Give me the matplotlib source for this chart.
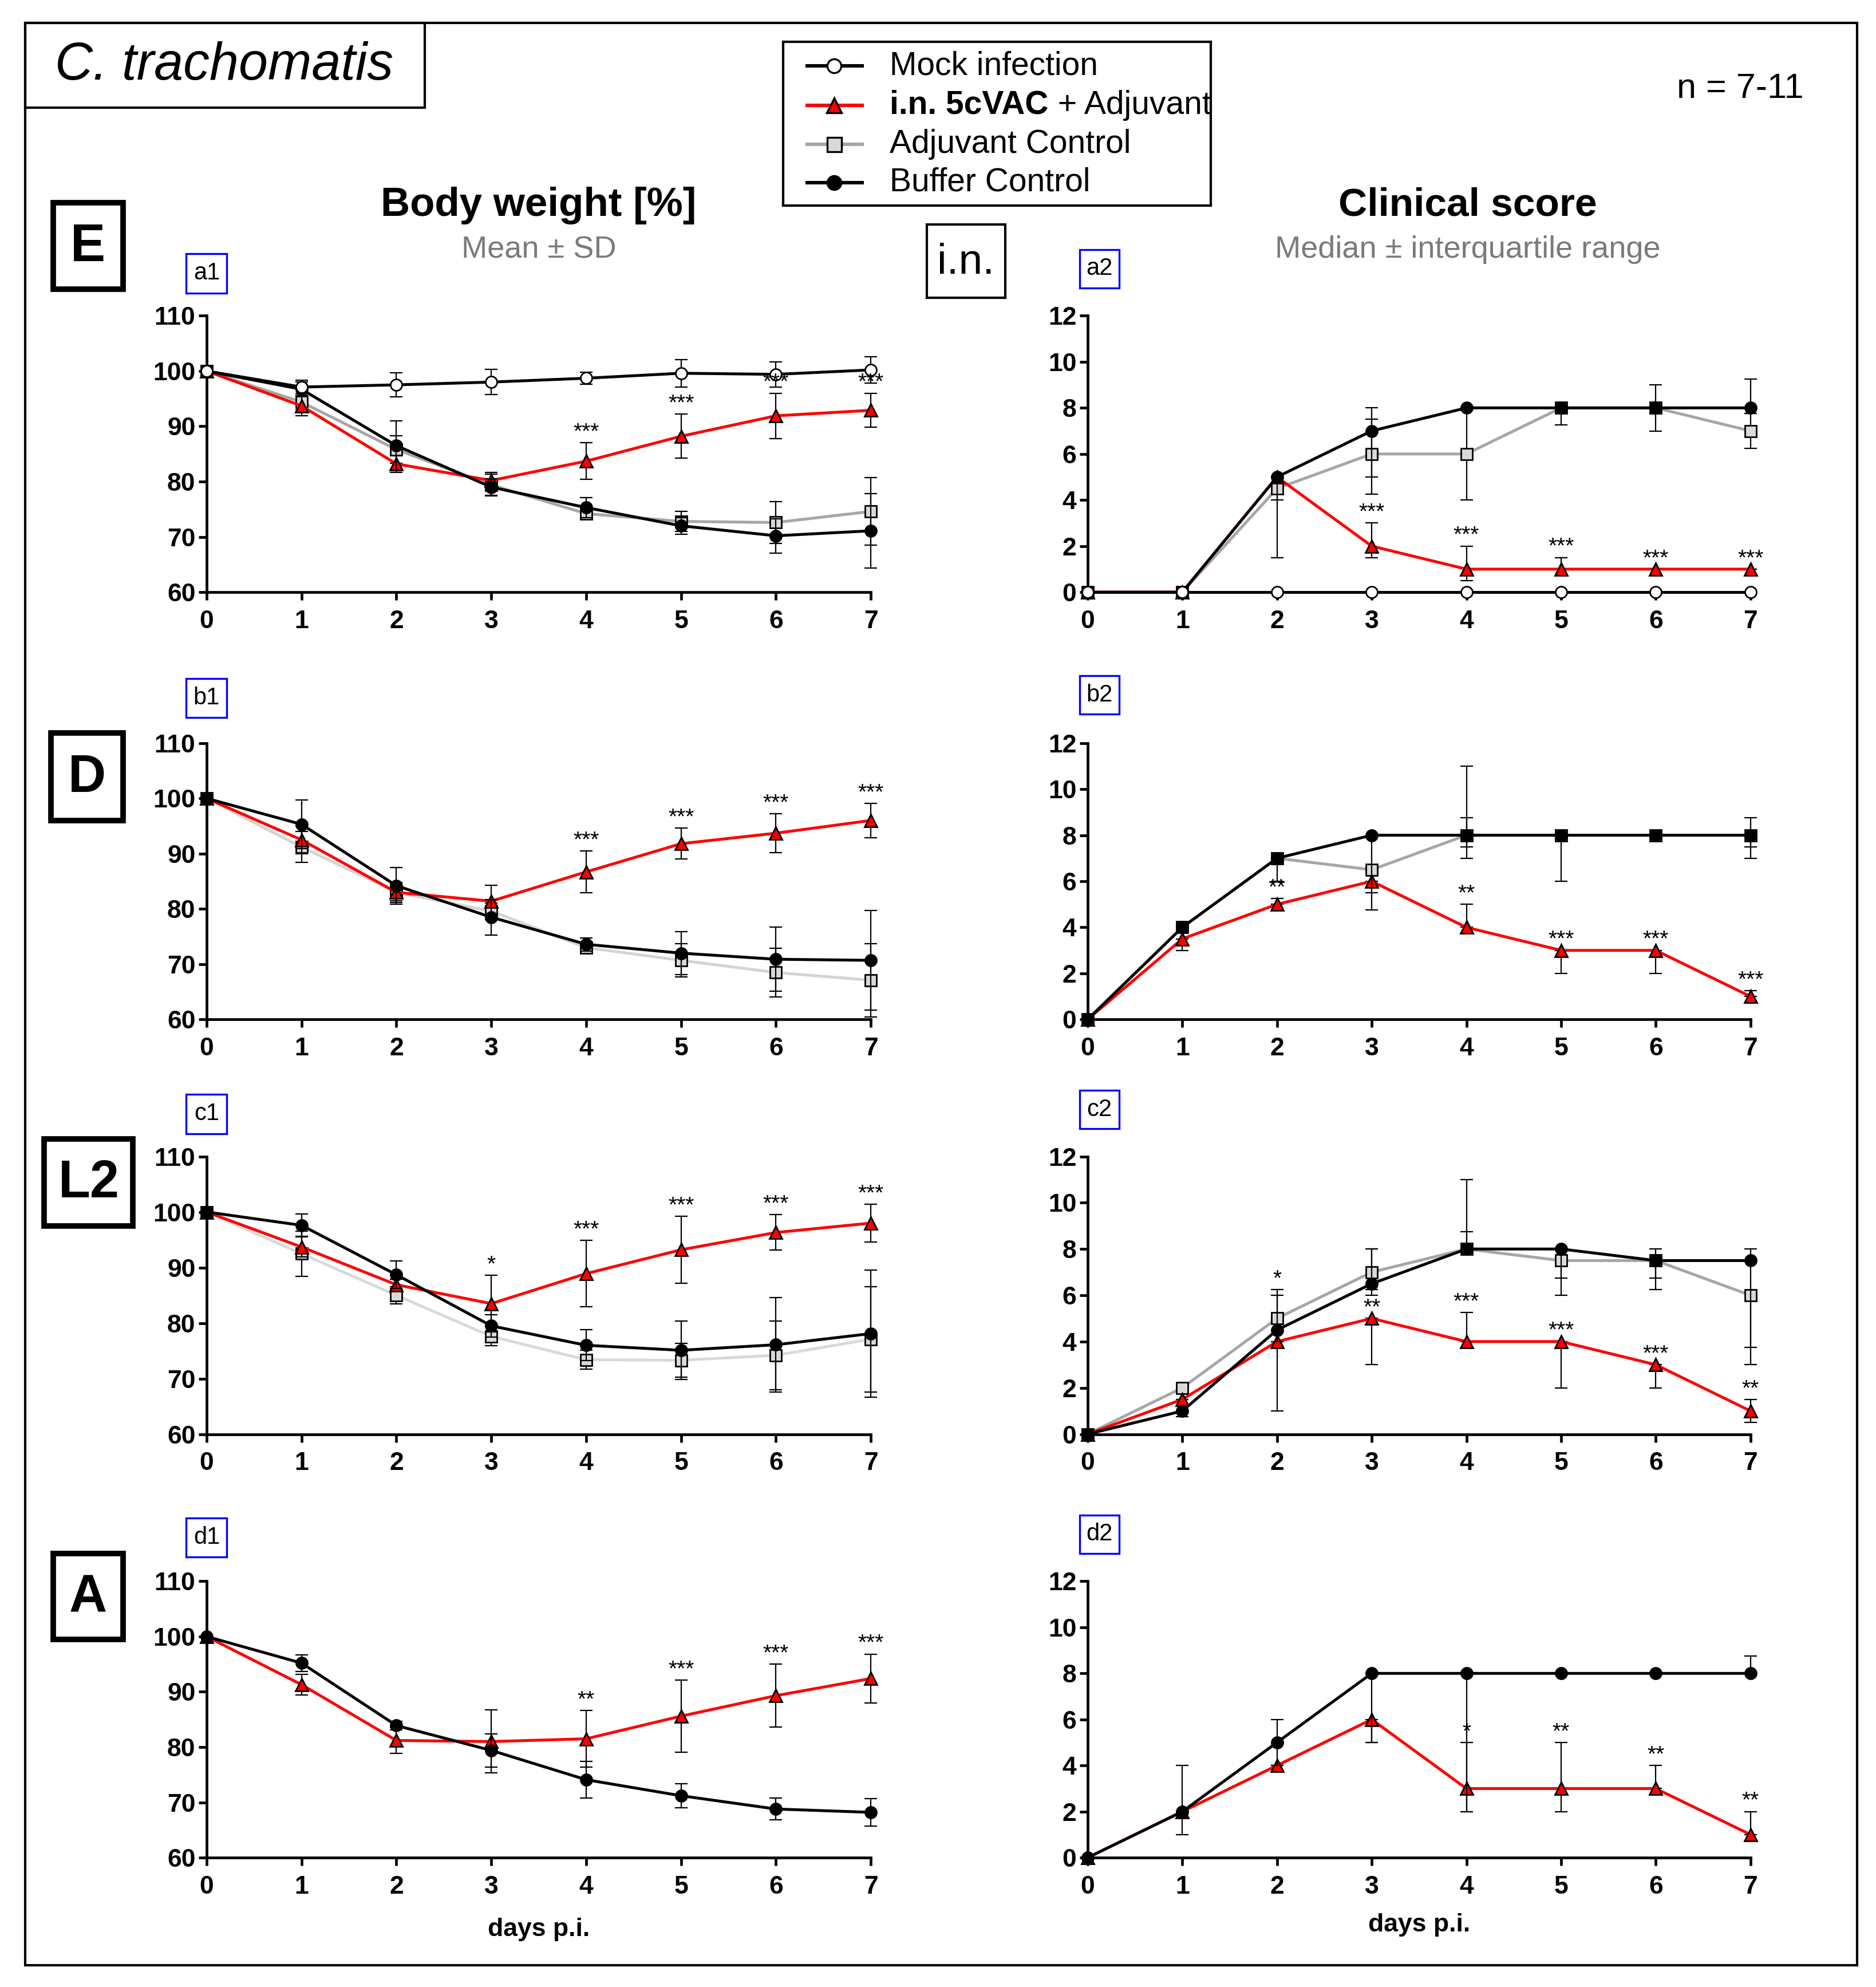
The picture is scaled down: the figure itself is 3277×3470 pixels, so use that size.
import matplotlib
matplotlib.use("Agg")
import matplotlib.pyplot as plt
from matplotlib.patches import Rectangle
import numpy as np

plt.rcParams["font.family"] = ["Liberation Sans", "DejaVu Sans"]

days = [0, 1, 2, 3, 4, 5, 6, 7]

# ---------------- serovar E ----------------
mock_E_bw = [100, 97.1, 97.5, 98.0, 98.7, 99.6, 99.4, 100.2]
mock_E_bw_sd = [0, 1.2, 2.2, 2.3, 1.1, 2.5, 2.3, 2.4]
vac_E_bw = [100, 93.7, 83.2, 80.2, 83.7, 88.2, 91.9, 92.9]
vac_E_bw_sd = [0, 1.8, 1.5, 1.5, 3.3, 4.0, 4.1, 3.1]
adj_E_bw = [100, 94.4, 85.8, 79.4, 74.2, 72.8, 72.6, 74.6]
adj_E_bw_sd = [0, 1.5, 2.5, 2.0, 1.0, 1.8, 3.8, 6.1]
buf_E_bw = [100, 96.7, 86.5, 79.0, 75.3, 72.0, 70.2, 71.1]
buf_E_bw_sd = [0, 1.3, 4.5, 1.5, 1.8, 1.5, 3.1, 6.7]
stars_E_bw = ["", "", "", "", "***", "***", "***", "***"]

mock_E_cs = [0, 0, 0, 0, 0, 0, 0, 0]
vac_E_cs = [0, 0, 5, 2, 1, 1, 1, 1]
vac_E_cs_lo = [0, 0, 5, 1.5, 0.5, 1, 1, 1]
vac_E_cs_hi = [0, 0, 5, 3, 2, 1.5, 1, 1]
adj_E_cs = [0, 0, 4.5, 6, 6, 8, 8, 7]
adj_E_cs_lo = [0, 0, 1.5, 4.25, 4, 8, 8, 6.25]
adj_E_cs_hi = [0, 0, 5, 7.5, 8, 8, 8, 7.75]
buf_E_cs = [0, 0, 5, 7, 8, 8, 8, 8]
buf_E_cs_lo = [0, 0, 4, 5, 8, 7.25, 7, 7.75]
buf_E_cs_hi = [0, 0, 5, 8, 8, 8, 9, 9.25]
stars_E_cs = ["", "", "", "***", "***", "***", "***", "***"]

# ---------------- serovar D ----------------
vac_D_bw = [100, 92.5, 83.0, 81.4, 86.7, 91.8, 93.7, 96.0]
vac_D_bw_sd = [0, 2.5, 1.5, 2.9, 3.8, 2.8, 3.5, 3.1]
adj_D_bw = [100, 91.2, 83.0, 79.6, 73.0, 70.7, 68.5, 67.1]
adj_D_bw_sd = [0, 2.8, 1.8, 1.5, 1.0, 3.0, 4.4, 6.6]
buf_D_bw = [100, 95.3, 84.2, 78.5, 73.6, 72.0, 70.9, 70.7]
buf_D_bw_sd = [0, 4.4, 3.3, 3.2, 1.2, 3.9, 5.8, 9.0]
stars_D_bw = ["", "", "", "", "***", "***", "***", "***"]

vac_D_cs = [0, 3.5, 5, 6, 4, 3, 3, 1]
vac_D_cs_lo = [0, 3, 5, 5.5, 4, 2, 2, 1]
vac_D_cs_hi = [0, 3.5, 5.25, 6, 5, 3, 3, 1.25]
adj_D_cs = [0, 4, 7, 6.5, 8, 8, 8, 8]
adj_D_cs_lo = [0, 4, 7, 6.5, 7.5, 8, 8, 7.5]
adj_D_cs_hi = [0, 4, 7, 6.5, 11, 8, 8, 8]
buf_D_cs = [0, 4, 7, 8, 8, 8, 8, 8]
buf_D_cs_lo = [0, 4, 6, 4.75, 7, 6, 8, 7]
buf_D_cs_hi = [0, 4, 7, 8, 8.75, 8, 8, 8.75]
stars_D_cs = ["", "", "**", "", "**", "***", "***", "***"]

# ---------------- serovar L2 ----------------
vac_L2_bw = [100, 93.7, 86.9, 83.5, 88.9, 93.2, 96.3, 98.0]
vac_L2_bw_sd = [0, 1.8, 1.0, 5.1, 6.0, 6.0, 3.2, 3.4]
adj_L2_bw = [100, 92.5, 85.0, 77.6, 73.4, 73.3, 74.2, 77.1]
adj_L2_bw_sd = [0, 4.1, 1.5, 1.7, 1.7, 3.0, 6.2, 9.5]
buf_L2_bw = [100, 97.6, 88.7, 79.5, 76.0, 75.1, 76.1, 78.1]
buf_L2_bw_sd = [0, 2.0, 2.5, 2.0, 2.8, 5.3, 8.5, 11.4]
stars_L2_bw = ["", "", "", "*", "***", "***", "***", "***"]

vac_L2_cs = [0, 1.5, 4, 5, 4, 4, 3, 1]
vac_L2_cs_lo = [0, 1.5, 1, 3, 4, 2, 2, 0.5]
vac_L2_cs_hi = [0, 1.5, 6.25, 5, 5.25, 4, 3, 1.5]
adj_L2_cs = [0, 2, 5, 7, 8, 7.5, 7.5, 6]
adj_L2_cs_lo = [0, 1.75, 5, 6.25, 8, 6.75, 6.75, 3]
adj_L2_cs_hi = [0, 2, 6, 8, 8.75, 7.5, 7.5, 6]
buf_L2_cs = [0, 1, 4.5, 6.5, 8, 8, 7.5, 7.5]
buf_L2_cs_lo = [0, 0.75, 4, 6, 8, 6, 6.25, 3.75]
buf_L2_cs_hi = [0, 1, 4.5, 8, 11, 8, 8, 8]
stars_L2_cs = ["", "", "*", "**", "***", "***", "***", "**"]

# ---------------- serovar A ----------------
vac_A_bw = [100, 91.3, 81.2, 81.0, 81.5, 85.6, 89.3, 92.4]
vac_A_bw_sd = [0, 1.9, 2.3, 5.7, 5.1, 6.5, 5.7, 4.4]
buf_A_bw = [100, 95.2, 83.9, 79.4, 74.1, 71.2, 68.8, 68.2]
buf_A_bw_sd = [0, 1.5, 0.8, 3.0, 3.3, 2.2, 2.0, 2.5]
stars_A_bw = ["", "", "", "", "**", "***", "***", "***"]

vac_A_cs = [0, 2, 4, 6, 3, 3, 3, 1]
vac_A_cs_lo = [0, 2, 4, 5, 2, 2, 3, 1]
vac_A_cs_hi = [0, 2, 4, 6, 5, 5, 4, 2]
buf_A_cs = [0, 2, 5, 8, 8, 8, 8, 8]
buf_A_cs_lo = [0, 1, 4, 5, 2, 8, 8, 8]
buf_A_cs_hi = [0, 4, 6, 8, 8, 8, 8, 8.75]
stars_A_cs = ["", "", "", "", "*", "**", "**", "**"]

legend_labels = ["Mock infection", "i.n. 5cVAC", "Adjuvant Control", "Buffer Control"]

STYLE = {
    "mock": dict(color="black", marker="o", ms=7.2, mfc="white", mec="black"),
    "vac": dict(color="#ff0000", marker="^", ms=8, mfc="#ff0000", mec="black"),
    "adj": dict(color="#a6a6a6", marker="s", ms=7.5, mfc="#d9d9d9", mec="black"),
    "buf": dict(color="black", marker="o", ms=7.2, mfc="black", mec="black"),
}
ORDER = {"adj": 2, "vac": 3, "buf": 4, "mock": 5}
LW = 1.8

# reference layout grid (pixels of a 1480 x 1567 view)
W, H = 1480.0, 1567.0


def fx(px):
    return px / W


def fy(py):
    return 1 - py / H


def fig_box(fig, x0, y0, x1, y1, lw=1.5, color="black"):
    fig.add_artist(Rectangle((fx(x0), fy(y1)), (x1 - x0) / W, (y1 - y0) / H,
                             transform=fig.transFigure, fill=False,
                             lw=lw, edgecolor=color))


def plot_series(ax, key, y, lo, hi, line_color=None):
    st = dict(STYLE[key])
    if line_color is not None:
        st["color"] = line_color
    y = np.asarray(y, float)
    err = [y - np.asarray(lo, float), np.asarray(hi, float) - y]
    z = ORDER[key]
    ax.errorbar(days, y, yerr=err, fmt="none", ecolor="black", elinewidth=0.8,
                capsize=3.8, capthick=0.8, clip_on=False, zorder=z)
    ax.plot(days, y, color=st["color"], lw=LW, marker=st["marker"], ms=st["ms"],
            mfc=st["mfc"], mec=st["mec"], mew=1.0, clip_on=False, zorder=z + 0.5)


def add_stars(ax, hi, stars):
    for d, h, s in zip(days, hi, stars):
        if s:
            ax.annotate(s, xy=(d, h), xytext=(0, 6.5), textcoords="offset points",
                        ha="center", va="center", fontsize=14, zorder=10,
                        annotation_clip=False)


def style_axes(ax, ymax, ystep, ymin=0):
    ax.set_xlim(0, 7)
    ax.set_ylim(ymin, ymax)
    ax.set_xticks(days)
    ax.set_yticks(np.arange(ymin, ymax + 0.1, ystep))
    for side in ["top", "right"]:
        ax.spines[side].set_visible(False)
    for side in ["left", "bottom"]:
        ax.spines[side].set_linewidth(1.7)
    ax.tick_params(axis="both", direction="out", length=5, width=1.7,
                   labelsize=16)
    ax.tick_params(axis="y", pad=2)
    ax.tick_params(axis="x", pad=6)
    plt.setp(ax.get_xticklabels() + ax.get_yticklabels(), fontweight="bold")


fig = plt.figure(figsize=(3277 / 200, 3470 / 200), dpi=200)

rows = [
    # (bottom px, top px)
    (467, 249), (804, 586), (1131, 912), (1465, 1247)
]
left_x = (163, 687)
right_x = (858, 1381)


def make_axes(xr, yr):
    return fig.add_axes([fx(xr[0]), fy(yr[0]), (xr[1] - xr[0]) / W,
                         (yr[0] - yr[1]) / H])


def sd_band(mean, sd):
    return np.subtract(mean, sd), np.add(mean, sd)


# ---- row E ----
ax = make_axes(left_x, rows[0])
plot_series(ax, "adj", adj_E_bw, *sd_band(adj_E_bw, adj_E_bw_sd))
plot_series(ax, "vac", vac_E_bw, *sd_band(vac_E_bw, vac_E_bw_sd))
plot_series(ax, "buf", buf_E_bw, *sd_band(buf_E_bw, buf_E_bw_sd))
plot_series(ax, "mock", mock_E_bw, *sd_band(mock_E_bw, mock_E_bw_sd))
add_stars(ax, np.add(vac_E_bw, vac_E_bw_sd), stars_E_bw)
style_axes(ax, 110, 10, 60)

ax = make_axes(right_x, rows[0])
plot_series(ax, "adj", adj_E_cs, adj_E_cs_lo, adj_E_cs_hi)
plot_series(ax, "vac", vac_E_cs, vac_E_cs_lo, vac_E_cs_hi)
plot_series(ax, "buf", buf_E_cs, buf_E_cs_lo, buf_E_cs_hi)
plot_series(ax, "mock", mock_E_cs, mock_E_cs, mock_E_cs)
add_stars(ax, vac_E_cs_hi, stars_E_cs)
style_axes(ax, 12, 2)

# ---- row D ----
ax = make_axes(left_x, rows[1])
plot_series(ax, "adj", adj_D_bw, *sd_band(adj_D_bw, adj_D_bw_sd), "#d4d4d4")
plot_series(ax, "vac", vac_D_bw, *sd_band(vac_D_bw, vac_D_bw_sd))
plot_series(ax, "buf", buf_D_bw, *sd_band(buf_D_bw, buf_D_bw_sd))
add_stars(ax, np.add(vac_D_bw, vac_D_bw_sd), stars_D_bw)
style_axes(ax, 110, 10, 60)

ax = make_axes(right_x, rows[1])
plot_series(ax, "adj", adj_D_cs, adj_D_cs_lo, adj_D_cs_hi)
plot_series(ax, "vac", vac_D_cs, vac_D_cs_lo, vac_D_cs_hi)
plot_series(ax, "buf", buf_D_cs, buf_D_cs_lo, buf_D_cs_hi)
add_stars(ax, vac_D_cs_hi, stars_D_cs)
style_axes(ax, 12, 2)

# ---- row L2 ----
ax = make_axes(left_x, rows[2])
plot_series(ax, "adj", adj_L2_bw, *sd_band(adj_L2_bw, adj_L2_bw_sd), "#d9d9d9")
plot_series(ax, "vac", vac_L2_bw, *sd_band(vac_L2_bw, vac_L2_bw_sd))
plot_series(ax, "buf", buf_L2_bw, *sd_band(buf_L2_bw, buf_L2_bw_sd))
add_stars(ax, np.add(vac_L2_bw, vac_L2_bw_sd), stars_L2_bw)
style_axes(ax, 110, 10, 60)

ax = make_axes(right_x, rows[2])
plot_series(ax, "adj", adj_L2_cs, adj_L2_cs_lo, adj_L2_cs_hi)
plot_series(ax, "vac", vac_L2_cs, vac_L2_cs_lo, vac_L2_cs_hi)
plot_series(ax, "buf", buf_L2_cs, buf_L2_cs_lo, buf_L2_cs_hi)
add_stars(ax, vac_L2_cs_hi, stars_L2_cs)
style_axes(ax, 12, 2)

# ---- row A ----
ax = make_axes(left_x, rows[3])
plot_series(ax, "vac", vac_A_bw, *sd_band(vac_A_bw, vac_A_bw_sd))
plot_series(ax, "buf", buf_A_bw, *sd_band(buf_A_bw, buf_A_bw_sd))
add_stars(ax, np.add(vac_A_bw, vac_A_bw_sd), stars_A_bw)
style_axes(ax, 110, 10, 60)
ax.set_xlabel("days p.i.", fontsize=16, fontweight="bold", labelpad=12)

ax = make_axes(right_x, rows[3])
plot_series(ax, "vac", vac_A_cs, vac_A_cs_lo, vac_A_cs_hi)
plot_series(ax, "buf", buf_A_cs, buf_A_cs_lo, buf_A_cs_hi)
add_stars(ax, vac_A_cs_hi, stars_A_cs)
style_axes(ax, 12, 2)
ax.set_xlabel("days p.i.", fontsize=16, fontweight="bold", labelpad=9)

# ---- frame, titles, boxes ----
fig_box(fig, 20, 18, 1465, 1550, lw=1.5)
fig_box(fig, 20, 18, 335, 85, lw=1.5)
fig.text(fx(177), fy(52), "C. trachomatis", fontsize=33, style="italic",
         ha="center", va="center")
fig.text(fx(1373), fy(70), "n = 7-11", fontsize=22, ha="center", va="center")

fig.text(fx(425), fy(162), "Body weight [%]", fontsize=25.5, fontweight="bold",
         ha="center", va="center")
fig.text(fx(425), fy(197), "Mean \u00b1 SD", fontsize=19.5, color="#7a7a7a",
         ha="center", va="center")
fig.text(fx(1158), fy(162), "Clinical score", fontsize=25, fontweight="bold",
         ha="center", va="center")
fig.text(fx(1158), fy(197), "Median \u00b1 interquartile range", fontsize=19.5,
         color="#7a7a7a", ha="center", va="center")

fig_box(fig, 731, 177, 793, 235, lw=1.5)
fig.text(fx(762), fy(207), "i.n.", fontsize=27, ha="center", va="center")

row_letters = ["E", "D", "L2", "A"]
letter_boxes = [(42, 160, 97, 228), (40, 578, 97, 647), (35, 898, 105, 967),
                (42, 1225, 97, 1293)]
for lab, (x0, y0, x1, y1) in zip(row_letters, letter_boxes):
    fig_box(fig, x0, y0, x1, y1, lw=3.5)
    fig.text(fx((x0 + x1) / 2), fy((y0 + y1) / 2 + 1), lab, fontsize=33,
             fontweight="bold", ha="center", va="center")

sub_labels = ["a1", "a2", "b1", "b2", "c1", "c2", "d1", "d2"]
sub_boxes = [(147, 200, 179, 231), (852, 197, 883, 227), (147, 535, 179, 566),
             (852, 533, 883, 563), (147, 863, 179, 894), (852, 860, 883, 890),
             (147, 1197, 179, 1228), (852, 1195, 883, 1225)]
for lab, (x0, y0, x1, y1) in zip(sub_labels, sub_boxes):
    fig_box(fig, x0, y0, x1, y1, lw=1.2, color="#0000ff")
    fig.text(fx((x0 + x1) / 2), fy((y0 + y1) / 2), lab, fontsize=15,
             ha="center", va="center")

# ---- legend ----
lx0, ly0, lx1, ly1 = 618, 33, 955, 162
ax_leg = fig.add_axes([fx(lx0), fy(ly1), (lx1 - lx0) / W, (ly1 - ly0) / H])
ax_leg.set_xlim(0, lx1 - lx0)
ax_leg.set_ylim(ly1 - ly0, 0)
ax_leg.set_xticks([])
ax_leg.set_yticks([])
for sp in ax_leg.spines.values():
    sp.set_linewidth(1.5)
leg_rows = [19, 50, 81, 111]
for key, lab, ry in zip(["mock", "vac", "adj", "buf"], legend_labels, leg_rows):
    st = STYLE[key]
    ax_leg.plot([19, 62], [ry, ry], color=st["color"], lw=2.2)
    ax_leg.plot([40], [ry], marker=st["marker"], ms=st["ms"] + 1.5, mfc=st["mfc"],
                mec=st["mec"], mew=1.2, color=st["color"])
    if key == "vac":
        t1 = ax_leg.text(84, ry, lab, fontsize=20.5, fontweight="bold",
                         va="center", ha="left")
        ax_leg.annotate(" + Adjuvant", xy=(1, 0), xycoords=t1, fontsize=20.5,
                        va="bottom", ha="left")
    else:
        ax_leg.text(84, ry, lab, fontsize=20.5, va="center", ha="left")

fig.savefig("out.png", dpi=200)
